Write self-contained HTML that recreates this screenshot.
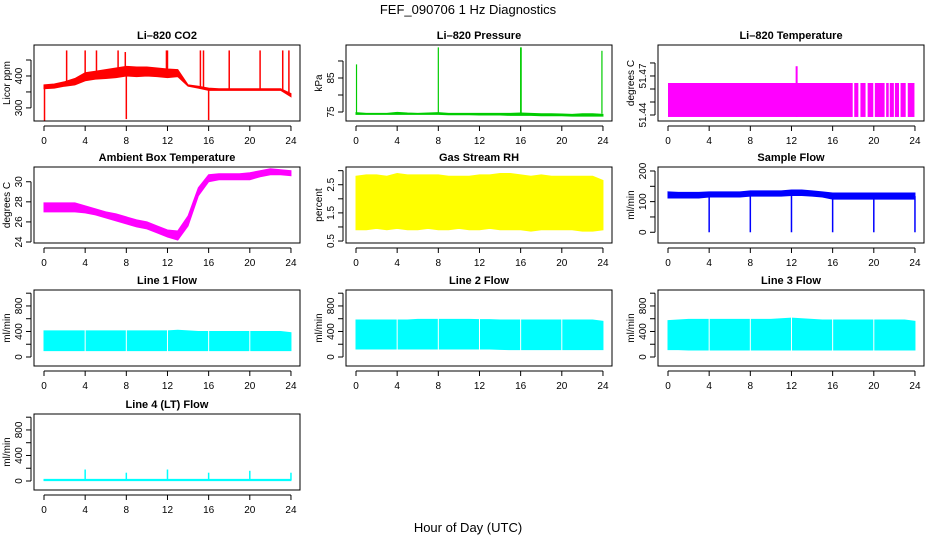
<!DOCTYPE html>
<html><head><meta charset="utf-8">
<style>
body{margin:0;background:#fff;}
svg{display:block;font-family:"Liberation Sans",Arial,sans-serif;}
</style></head>
<body>
<svg id="c" width="936" height="540" viewBox="0 0 936 540">
<text x="468" y="14" text-anchor="middle" font-size="13">FEF_090706  1 Hz Diagnostics</text>
<text x="468" y="532" text-anchor="middle" font-size="13">Hour of Day (UTC)</text>
</svg>
<script>
// ---- data ----
const hours = [0,1,2,3,4,5,6,7,8,9,10,11,12,13,14,15,16,17,18,19,20,21,22,23,24];
const co2Lo = [360,362,368,372,385,390,392,395,400,398,400,398,395,398,368,362,355,355,355,355,355,355,355,355,335];
const co2Hi = [372,375,382,392,410,415,420,425,430,428,428,425,422,420,372,368,362,360,360,360,360,360,360,360,345];
const co2SpikeX = [0.05,2.2,4.0,5.1,7.2,7.9,8.0,11.9,12.0,15.2,15.5,16.0,18.0,21.0,23.2,23.8];
const co2SpikeY = [260,480,480,480,480,475,265,480,480,480,480,262,480,480,480,480];
const presLo = [74.3,74.3,74.3,74.3,74.3,74.3,74.3,74.3,74.3,74.2,74.2,74.2,74.1,74.1,74.1,74.0,74.0,74.0,73.9,73.9,73.9,73.8,73.8,73.8,73.8];
const presHi = [74.8,74.6,74.6,74.6,74.9,74.7,74.6,74.7,74.8,74.6,74.6,74.6,74.6,74.6,74.6,74.6,74.7,74.6,74.5,74.5,74.4,74.3,74.5,74.5,74.3];
const presSpikeX = [0.05,8.0,16.0,16.05,23.9];
const presSpikeY = [89,94,94,94,93];
const ltSegStart = [0,18.1,18.7,19.4,20.1,21.2,21.55,22.05,22.6,23.3];
const ltSegEnd = [17.95,18.5,19.2,19.95,21.05,21.45,21.95,22.45,23.1,23.95];
const ltLo = 51.4385;
const ltHi = 51.4646;
const ltSpikeX = [12.5];
const ltSpikeY = [51.4775];
const ambLo = [27.0,27.0,27.0,27.0,26.9,26.7,26.4,26.1,25.8,25.5,25.3,24.9,24.5,24.2,25.6,28.6,30.0,30.2,30.2,30.2,30.2,30.5,30.7,30.7,30.6];
const ambHi = [27.9,27.9,27.9,27.9,27.6,27.3,27.0,26.8,26.5,26.2,26.0,25.6,25.2,25.1,26.6,29.4,30.7,30.8,30.8,30.8,30.9,31.1,31.3,31.2,31.1];
const rhLo = [0.9,0.9,0.95,0.9,0.95,0.9,0.9,0.95,0.9,0.9,0.95,0.9,0.9,0.95,0.9,0.9,0.9,0.85,0.9,0.9,0.9,0.9,0.85,0.85,0.9];
const rhHi = [2.8,2.85,2.85,2.8,2.9,2.85,2.85,2.85,2.85,2.8,2.8,2.8,2.85,2.85,2.9,2.9,2.85,2.8,2.85,2.8,2.8,2.8,2.8,2.8,2.65];
const sfLo = [112,112,112,112,115,115,115,115,118,118,118,118,120,120,118,115,108,108,108,108,108,108,108,108,108];
const sfHi = [132,130,130,130,132,132,132,132,135,135,135,135,138,138,135,132,128,128,128,128,128,128,128,128,128];
const sfDipX = [4,8,12,16,20,24];
const sfDipY = [0,0,0,0,0,0];
const l1Lo = [100,100,100,100,100,100,100,100,100,100,100,100,100,100,100,100,100,100,100,100,100,100,100,100,100];
const l1Hi = [410,410,410,410,410,410,410,410,410,410,410,410,410,420,410,400,400,400,400,400,400,400,400,400,380];
const l2Lo = [125,125,125,125,125,125,125,125,125,125,125,125,125,125,120,115,115,115,115,115,115,115,115,115,115];
const l2Hi = [580,580,580,580,580,580,590,590,590,590,590,590,585,585,580,580,580,580,580,580,580,580,580,580,560];
const l3Lo = [115,115,110,110,110,110,110,110,110,110,110,110,110,110,110,110,110,110,110,110,110,110,110,110,110];
const l3Hi = [570,580,590,590,590,590,590,590,590,590,590,600,610,600,590,580,580,580,580,580,580,580,580,580,560];
const flowGapX = [4,8,12,16,20];
const l4Lo = [5,5,5,5,5,5,5,5,5,5,5,5,5,5,5,5,5,5,5,5,5,5,5,5,5];
const l4Hi = [25,25,25,25,25,25,25,25,25,25,25,25,25,25,25,25,25,25,25,25,25,25,25,25,25];
const l4SpikeX = [4,8,12,16,20,24];
const l4SpikeY = [180,130,180,130,160,130];
const xTicks = [0,4,8,12,16,20,24];

// ---- drawing ----
const NS = 'http://www.w3.org/2000/svg';
const svg = document.getElementById('c');
function mk(tag, attrs, parent){
  const e = document.createElementNS(NS, tag);
  for (const k in attrs) e.setAttribute(k, attrs[k]);
  (parent||svg).appendChild(e);
  return e;
}
const W = 266, H = 76;
function panel(o){
  const g = mk('g', {});
  
  
  const L = o.left, T = o.top;
  const sx = h => L + 10 + h * 10.29;
  const sy = v => T + H - (v - o.ymin) / (o.ymax - o.ymin) * H;
  const clip = mk('clipPath', {id: 'clip-' + o.name}, g);
  mk('rect', {x: L, y: T, width: W, height: H}, clip);
  const dg = mk('g', {'clip-path': 'url(#clip-' + o.name + ')'}, g);
  
  
  if (o.lo) {
    let d = '';
    hours.forEach((h, i) => { d += (i ? 'L' : 'M') + sx(h) + ',' + sy(o.hi[i]); });
    for (let i = hours.length - 1; i >= 0; i--) d += 'L' + sx(hours[i]) + ',' + sy(o.lo[i]);
    const p = mk('path', {d: d + 'Z', fill: o.color, stroke: o.color, 'stroke-width': 1}, dg);
    
    
  }
  if (o.segs) {
    o.segs[0].forEach((s, i) => {
      const r = mk('rect', {x: sx(s), y: sy(o.segHi), width: sx(o.segs[1][i]) - sx(s), height: sy(o.segLo) - sy(o.segHi), fill: o.color}, dg);
      
      
    });
  }
  if (o.gaps) {
    o.gaps.forEach(x => {
      const l = mk('line', {x1: sx(x), x2: sx(x), y1: T, y2: T + H, stroke: '#fff', 'stroke-width': 1}, dg);
      
      
    });
  }
  if (o.spX) {
    o.spX.forEach((x, i) => {
      const base = o.spBase !== undefined ? o.spBase : (o.lo ? (o.lo[Math.round(x)] + o.hi[Math.round(x)]) / 2 : o.segLo);
      const l = mk('line', {x1: sx(x), x2: sx(x), y1: sy(base), y2: sy(o.spY[i]), stroke: o.color, 'stroke-width': o.spW || 1.5}, dg);
      
      
    });
  }
  const box = mk('rect', {x: L, y: T, width: W, height: H, fill: 'none', stroke: '#000', 'stroke-width': 1}, g);
  
  
  const t = mk('text', {x: L + W / 2, y: T - 6, 'text-anchor': 'middle', 'font-size': 11, 'font-weight': 'bold'}, g);
  t.textContent = o.title;
  
  
  // x axis
  const xa = mk('g', {}, g);
  
  
  const by = T + H + 5;
  mk('line', {x1: sx(0), x2: sx(24), y1: by, y2: by, stroke: '#000'}, xa);
  xTicks.forEach(v => {
    mk('line', {x1: sx(v), x2: sx(v), y1: by, y2: by + 5, stroke: '#000'}, xa);
    const tx = mk('text', {x: sx(v), y: by + 18, 'text-anchor': 'middle', 'font-size': 10}, xa);
    tx.textContent = v;
    
    
  });
  // y axis
  const ya = mk('g', {}, g);
  
  
  const ax = L - 3;
  mk('line', {x1: ax, x2: ax, y1: sy(o.yt[0]), y2: sy(o.yt[o.yt.length - 1]), stroke: '#000'}, ya);
  o.yt.forEach(v => {
    mk('line', {x1: ax - 5, x2: ax, y1: sy(v), y2: sy(v), stroke: '#000'}, ya);
  });
  o.yl.forEach(v => {
    const px = L - 12, py = sy(v);
    const tx = mk('text', {x: px, y: py, 'text-anchor': 'middle', 'font-size': 10, transform: 'rotate(-90 ' + px + ' ' + py + ')'}, ya);
    tx.textContent = v;
    
    
  });
  const lx = L - 24, ly = T + H / 2;
  const yt = mk('text', {x: lx, y: ly, 'text-anchor': 'middle', 'font-size': 10, transform: 'rotate(-90 ' + lx + ' ' + ly + ')'}, g);
  yt.textContent = o.ylab;
  
  
}
const C1 = 34, C2 = 346, C3 = 658, R1 = 45, R2 = 167, R3 = 290, R4 = 414;
panel({name:'co2', title:'Li\u2013820 CO2', left:C1, top:R1, ymin:259, ymax:497, lo:co2Lo, hi:co2Hi, spX:co2SpikeX, spY:co2SpikeY, color:'#ff0000', yt:[300,350,400,450], yl:[300,400], ylab:'Licor ppm'});
panel({name:'pressure', title:'Li\u2013820 Pressure', left:C2, top:R1, ymin:72.35, ymax:94.7, lo:presLo, hi:presHi, spX:presSpikeX, spY:presSpikeY, spBase:74.5, spW:1.2, color:'#00cc00', yt:[75,80,85,90], yl:[75,85], ylab:'kPa'});
panel({name:'li820-temp', title:'Li\u2013820 Temperature', left:C3, top:R1, ymin:51.4354, ymax:51.4938, segs:[ltSegStart, ltSegEnd], segLo:ltLo, segHi:ltHi, spX:ltSpikeX, spY:ltSpikeY, spW:2, color:'#ff00ff', yt:[51.44,51.45,51.46,51.47,51.48], yl:['51.44','51.47'], ylab:'degrees C'});
panel({name:'ambient-temp', title:'Ambient Box Temperature', left:C1, top:R2, ymin:23.9, ymax:31.47, lo:ambLo, hi:ambHi, color:'#ff00ff', yt:[24,26,28,30], yl:[24,26,28,30], ylab:'degrees C'});
panel({name:'rh', title:'Gas Stream RH', left:C2, top:R2, ymin:0.43, ymax:3.13, lo:rhLo, hi:rhHi, color:'#ffff00', yt:[0.5,1,1.5,2,2.5,3], yl:['0.5','1.5','2.5'], ylab:'percent'});
panel({name:'sample-flow', title:'Sample Flow', left:C3, top:R2, ymin:-35, ymax:213, lo:sfLo, hi:sfHi, spX:sfDipX, spY:sfDipY, color:'#0000ff', yt:[0,50,100,150,200], yl:[0,100,200], ylab:'ml/min'});
panel({name:'line1-flow', title:'Line 1 Flow', left:C1, top:R3, ymin:-141, ymax:1050, lo:l1Lo, hi:l1Hi, gaps:flowGapX, color:'#00ffff', yt:[0,200,400,600,800,1000], yl:[0,400,800], ylab:'ml/min'});
panel({name:'line2-flow', title:'Line 2 Flow', left:C2, top:R3, ymin:-141, ymax:1050, lo:l2Lo, hi:l2Hi, gaps:flowGapX, color:'#00ffff', yt:[0,200,400,600,800,1000], yl:[0,400,800], ylab:'ml/min'});
panel({name:'line3-flow', title:'Line 3 Flow', left:C3, top:R3, ymin:-141, ymax:1050, lo:l3Lo, hi:l3Hi, gaps:flowGapX, color:'#00ffff', yt:[0,200,400,600,800,1000], yl:[0,400,800], ylab:'ml/min'});
panel({name:'line4-flow', title:'Line 4 (LT) Flow', left:C1, top:R4, ymin:-141, ymax:1050, lo:l4Lo, hi:l4Hi, spX:l4SpikeX, spY:l4SpikeY, spBase:15, color:'#00ffff', yt:[0,200,400,600,800,1000], yl:[0,400,800], ylab:'ml/min'});
</script>
</body></html>
